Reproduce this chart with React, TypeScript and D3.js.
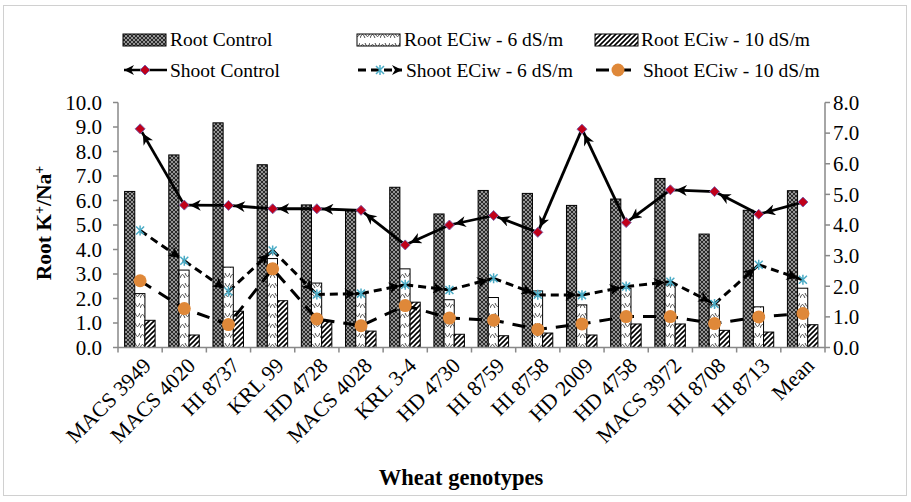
import React from 'react';
import * as d3 from 'd3';

// Wheat genotypes on the x axis
const genotypes = [
  'MACS 3949', 'MACS 4020', 'HI 8737', 'KRL 99', 'HD 4728', 'MACS 4028', 'KRL 3-4', 'HD 4730',
  'HI 8759', 'HI 8758', 'HD 2009', 'HD 4758', 'MACS 3972', 'HI 8708', 'HI 8713', 'Mean',
];

// Root K+/Na+ (left axis, bars)
const rootControl = [6.37, 7.86, 9.17, 7.46, 5.82, 5.58, 6.54, 5.45, 6.41, 6.29, 5.8, 6.06, 6.9, 4.63, 5.6, 6.4];
const root6 = [2.2, 3.16, 3.28, 3.63, 2.63, 2.23, 3.21, 1.95, 2.04, 2.31, 1.74, 2.42, 2.56, 1.74, 1.66, 2.42];
const root10 = [1.11, 0.51, 1.48, 1.91, 1.1, 0.67, 1.85, 0.54, 0.48, 0.59, 0.51, 0.96, 0.96, 0.7, 0.63, 0.93];

// Shoot K+/Na+ (right axis, lines)
const shootControl = [7.14, 4.65, 4.64, 4.53, 4.53, 4.48, 3.35, 4.0, 4.31, 3.76, 7.13, 4.08, 5.15, 5.09, 4.35, 4.75];
const shoot6 = [3.82, 2.83, 1.83, 3.17, 1.73, 1.76, 2.05, 1.88, 2.26, 1.72, 1.71, 1.99, 2.15, 1.42, 2.7, 2.21];
const shoot10 = [2.18, 1.27, 0.75, 2.57, 0.93, 0.71, 1.37, 0.96, 0.89, 0.59, 0.77, 1.01, 1.01, 0.78, 1.0, 1.11];

const leftTicks = [0, 1, 2, 3, 4, 5, 6, 7, 8, 9, 10];
const rightTicks = [0, 1, 2, 3, 4, 5, 6, 7, 8];

const W = 911;
const H = 502;
const FONT = '"Liberation Serif", "Times New Roman", serif';
const AXIS = '#898989';
const ORANGE = '#DF8839';
const TEAL = '#4BACC6';

const diamond = (x: number, y: number, r = 5) => `M${x},${y - r}L${x + r},${y}L${x},${y + r}L${x - r},${y}Z`;
const star = (x: number, y: number, r = 5) =>
  `M${x - r},${y - r}L${x + r},${y + r}M${x - r},${y + r}L${x + r},${y - r}M${x},${y - r - 1}L${x},${y + r + 1}`;

export default function App() {
  const margin = { top: 102.5, bottom: 347.5, left: 118, right: 825 };

  const x = d3.scaleBand<string>().domain(genotypes).range([margin.left, margin.right]).padding(0);
  const yL = d3.scaleLinear().domain([0, 10]).range([margin.bottom, margin.top]);
  const yR = d3.scaleLinear().domain([0, 8]).range([margin.bottom, margin.top]);

  const barKeys = ['control', 'ec6', 'ec10'];
  const sub = d3.scaleBand<string>().domain(barKeys).range([-15.5, 15]).padding(0);
  const barSeries = [
    { key: 'control', values: rootControl, fill: 'url(#patDark)' },
    { key: 'ec6', values: root6, fill: 'url(#patWave)' },
    { key: 'ec10', values: root10, fill: 'url(#patHatch)' },
  ];

  const cx = (i: number) => (x(genotypes[i]) as number) + x.bandwidth() / 2;
  const line = d3.line<[number, number]>();

  const segments = (vals: number[]) =>
    d3.pairs(vals.map((v, i) => [cx(i), yR(v)] as [number, number]));

  return (
    <svg width={W} height={H} style={{ position: 'absolute', left: 0, top: 0, background: '#fff' }} fontFamily={FONT}>
      <defs>
        <pattern id="patDark" width="4" height="4" patternUnits="userSpaceOnUse">
          <rect width="4" height="4" fill="#2a2a2a" />
          <path d="M0,2L2,0L4,2L2,4Z" fill="none" stroke="#b0b0b0" strokeWidth="0.8" />
        </pattern>
        <pattern id="patWave" width="10" height="10" patternUnits="userSpaceOnUse">
          <rect width="10" height="10" fill="#fff" />
          <path d="M0,8 Q2.5,1 5,8 M5,3 Q7.5,10 10,3" fill="none" stroke="#333" strokeWidth="0.9" />
        </pattern>
        <pattern id="patHatch" width="5" height="5" patternUnits="userSpaceOnUse">
          <rect width="5" height="5" fill="#fff" />
          <path d="M-1,1L1,-1M0,5L5,0M4,6L6,4" stroke="#000" strokeWidth="1.6" />
        </pattern>
        <marker id="arrowStart" viewBox="0 0 10 10" refX="15" refY="5" markerWidth="12" markerHeight="11"
          markerUnits="userSpaceOnUse" orient="auto-start-reverse">
          <path d="M0,0L10,5L0,10L3,5Z" fill="#000" />
        </marker>
        <marker id="arrowEnd" viewBox="0 0 10 10" refX="15" refY="5" markerWidth="12" markerHeight="11"
          markerUnits="userSpaceOnUse" orient="auto">
          <path d="M0,0L10,5L0,10L3,5Z" fill="#000" />
        </marker>
        <marker id="arrowLegendEnd" viewBox="0 0 10 10" refX="10" refY="5" markerWidth="11" markerHeight="10"
          markerUnits="userSpaceOnUse" orient="auto">
          <path d="M0,0L10,5L0,10L3,5Z" fill="#000" />
        </marker>
        <marker id="arrowLegendStart" viewBox="0 0 10 10" refX="10" refY="5" markerWidth="11" markerHeight="10"
          markerUnits="userSpaceOnUse" orient="auto-start-reverse">
          <path d="M0,0L10,5L0,10L3,5Z" fill="#000" />
        </marker>
      </defs>

      <rect x={3.5} y={5.5} width={903} height={490} fill="#fff" stroke="#d0d0d0" />

      {/* legend */}
      <g fontSize={19.5}>
        <rect x={123} y={34} width={43} height={12} fill="url(#patDark)" stroke="#000" />
        <text x={170} y={46}>Root Control</text>
        <rect x={357} y={34} width={43} height={12} fill="url(#patWave)" stroke="#000" />
        <text x={404} y={46}>Root ECiw - 6 dS/m</text>
        <rect x={595} y={34} width={43} height={12} fill="url(#patHatch)" stroke="#000" />
        <text x={641} y={46}>Root ECiw - 10 dS/m</text>

        <path d="M124,70L167,70" stroke="#000" strokeWidth={2.5} markerStart="url(#arrowLegendStart)" />
        <path d={diamond(145, 70)} fill="#C0001A" stroke="#7F5FA8" strokeWidth={1} />
        <text x={170} y={77}>Shoot Control</text>
        <path d="M358,70L402,70" stroke="#000" strokeWidth={3} strokeDasharray="8,5"
          markerEnd="url(#arrowLegendEnd)" />
        <path d={star(380, 70, 4)} stroke={TEAL} strokeWidth={1.5} fill="none" />
        <text x={406} y={77}>Shoot ECiw - 6 dS/m</text>
        <path d="M596,70L640,70" stroke="#000" strokeWidth={3} strokeDasharray="13,9" />
        <circle cx={618} cy={70} r={6.5} fill={ORANGE} />
        <text x={643} y={77}>Shoot ECiw - 10 dS/m</text>
      </g>

      {/* bars */}
      {barSeries.map((s) => (
        <g key={s.key}>
          {s.values.map((v, i) => (
            <rect
              key={i}
              x={cx(i) + (sub(s.key) as number)}
              y={yL(v)}
              width={sub.bandwidth()}
              height={yL(0) - yL(v)}
              fill={s.fill}
              stroke="#000"
              strokeWidth={1}
            />
          ))}
        </g>
      ))}

      {/* axes */}
      <g stroke={AXIS} strokeWidth={1.5}>
        <line x1={margin.left} x2={margin.left} y1={margin.top} y2={margin.bottom} />
        <line x1={margin.right} x2={margin.right} y1={margin.top} y2={margin.bottom} />
        <line x1={margin.left} x2={margin.right} y1={margin.bottom} y2={margin.bottom} />
        {leftTicks.map((t) => (
          <line key={'l' + t} x1={margin.left - 5} x2={margin.left} y1={yL(t)} y2={yL(t)} />
        ))}
        {rightTicks.map((t) => (
          <line key={'r' + t} x1={margin.right} x2={margin.right + 5} y1={yR(t)} y2={yR(t)} />
        ))}
        {genotypes.concat(['']).map((g, i) => (
          <line key={'x' + i} x1={margin.left + i * x.bandwidth()} x2={margin.left + i * x.bandwidth()}
            y1={margin.bottom} y2={margin.bottom + 5} />
        ))}
      </g>
      <g fontSize={21}>
        {leftTicks.map((t) => (
          <text key={t} x={margin.left - 16} y={yL(t)} dy="0.35em" textAnchor="end">{t.toFixed(1)}</text>
        ))}
        {rightTicks.map((t) => (
          <text key={t} x={margin.right + 8} y={yR(t)} dy="0.35em">{t.toFixed(1)}</text>
        ))}
      </g>
      <g fontSize={21.5}>
        {genotypes.map((g, i) => (
          <text key={g} transform={`translate(${cx(i) + 7},${margin.bottom + 14}) rotate(-45)`}
            textAnchor="end" dy="0.35em">{g}</text>
        ))}
      </g>

      {/* Shoot Control */}
      <g>
        {segments(shootControl).map((seg, i) => (
          <path key={i} d={line(seg) as string} stroke="#000" strokeWidth={2.8} fill="none"
            markerStart="url(#arrowStart)" />
        ))}
        {shootControl.map((v, i) => (
          <path key={i} d={diamond(cx(i), yR(v))} fill="#C0001A" stroke="#7F5FA8" strokeWidth={1} />
        ))}
      </g>

      {/* Shoot ECiw 6 */}
      <g>
        {segments(shoot6).map((seg, i) => (
          <path key={i} d={line(seg) as string} stroke="#000" strokeWidth={3} fill="none"
            strokeDasharray="8,5" markerEnd="url(#arrowEnd)" />
        ))}
        {shoot6.map((v, i) => (
          <path key={i} d={star(cx(i), yR(v), 4)} stroke={TEAL} strokeWidth={1.5} fill="none" />
        ))}
      </g>

      {/* Shoot ECiw 10 */}
      <g>
        <path d={line(shoot10.map((v, i) => [cx(i), yR(v)] as [number, number])) as string}
          stroke="#000" strokeWidth={3} fill="none" strokeDasharray="13,9" />
        {shoot10.map((v, i) => (
          <circle key={i} cx={cx(i)} cy={yR(v)} r={6.5} fill={ORANGE} />
        ))}
      </g>

      {/* axis titles */}
      <text transform="translate(51,223) rotate(-90)" textAnchor="middle" fontWeight="bold" fontSize={21.5}>
        Root K<tspan baselineShift="super" fontSize={14}>+</tspan>/Na<tspan baselineShift="super" fontSize={14}>+</tspan>
      </text>
      <text x={461} y={485} textAnchor="middle" fontWeight="bold" fontSize={22.5}>Wheat genotypes</text>
    </svg>
  );
}
